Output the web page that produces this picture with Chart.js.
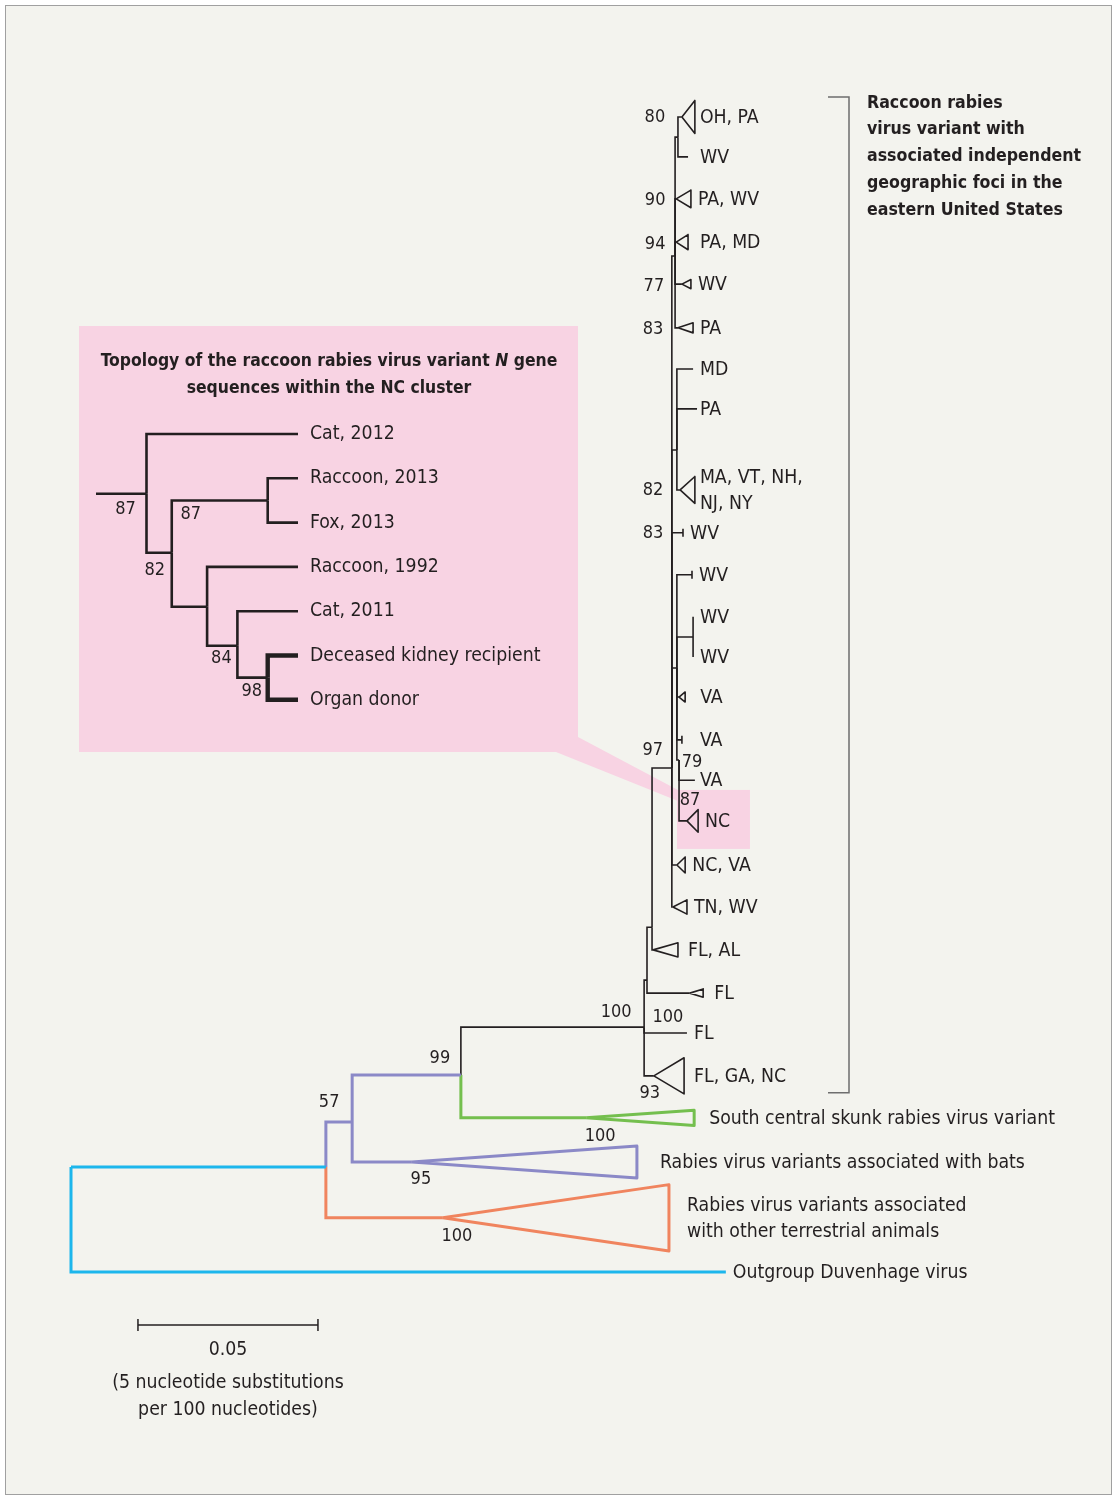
<!DOCTYPE html>
<html>
<head>
<meta charset="utf-8">
<script src="https://cdn.jsdelivr.net/npm/chart.js@4.4.1/dist/chart.umd.min.js"></script>
<style>
  html, body { margin: 0; padding: 0; background: #fff; }
  #wrap { position: relative; width: 1117px; height: 1500px; }
  #frame { position: absolute; left: 5px; top: 5px; width: 1105px; height: 1488px;
           border: 1px solid #a0a0a0; background: #f3f3ee; }
  #chart { position: absolute; left: 0; top: 0; width: 1117px; height: 1500px; }
</style>
</head>
<body>
<div id="wrap">
  <div id="frame"></div>
  <div id="chart"><canvas id="tree"></canvas></div>
</div>
<script>
// ---- data -------------------------------------------------------------
// nodes: [id, parent, distance from root (nt substitutions per 100 nt), tip row]
const backboneNodes = [
  ['root',        null,      0.00, 25.00],
  ['ingroup',     'root',    7.08, 25.00],
  ['duvenhage',   'root',   18.19, 27.50],
  ['pNode',       'ingroup', 7.81, 23.93],
  ['terrestrial', 'ingroup',10.33, 26.21],
  ['n99',         'pNode',  10.83, 22.81],
  ['bats',        'pNode',   9.47, 24.88],
  ['skunk',       'n99',    14.31, 23.83],
  ['raccoon',     'n99',    15.92, 21.67],
];

const raccoonNodes = [
  ['flgancT', 'raccoon', 16.19, 22.83],
  ['fl1031',  'raccoon', 17.11, 21.81],
  ['r2',      'raccoon', 16.00, 20.55],
  ['flT',     'r2',      17.19, 20.86],
  ['r3',      'r2',      16.14, 19.29],
  ['flalT',   'r3',      16.17, 19.83],
  ['r4',      'r3',      16.69, 15.50],
  ['tnwvT',   'r4',      16.72, 18.81],
  ['ncvaT',   'r4',      16.83, 17.81],
  ['wr',      'r4',      16.83, 13.12],
  ['wv534',   'r4',      17.00,  9.90],
  ['nMid',    'r4',      16.83,  7.93],
  ['nTop',    'r4',      16.78,  3.31],
  ['wv575',   'wr',      17.25, 10.90],
  ['cherry',  'wr',      17.28, 12.38],
  ['wv617',   'cherry',  17.28, 11.90],
  ['wv657',   'cherry',  17.28, 12.86],
  ['va697T',  'wr',      16.89, 13.81],
  ['va740',   'wr',      16.97, 14.83],
  ['r6',      'wr',      16.89, 15.31],
  ['va780',   'r6',      17.33, 15.79],
  ['ncT',     'r6',      17.11, 16.76],
  ['md369',   'nMid',    17.28,  6.00],
  ['pa409',   'nMid',    17.39,  6.95],
  ['maT',     'nMid',    16.92,  8.88],
  ['na',      'nTop',    16.86,  0.48],
  ['pawvT',   'nTop',    16.81,  1.95],
  ['pamdT',   'nTop',    16.81,  2.98],
  ['wv284T',  'nTop',    16.97,  3.98],
  ['pa328T',  'nTop',    16.86,  5.02],
  ['ohpaT',   'na',      16.97,  0.00],
  ['wv157',   'na',      17.14,  0.95],
];

// collapsed clades: [id, distance of farthest tip, half height in rows]
const collapsed = [
  ['terrestrial', 16.61, 0.79], ['bats', 15.72, 0.38], ['skunk', 17.31, 0.18],
  ['flgancT', 17.03, 0.43], ['flT', 17.56, 0.10], ['flalT', 16.86, 0.17],
  ['tnwvT', 17.11, 0.17], ['ncvaT', 17.06, 0.19], ['va697T', 17.06, 0.12],
  ['ncT', 17.42, 0.27], ['maT', 17.33, 0.32], ['pawvT', 17.22, 0.21],
  ['pamdT', 17.14, 0.18], ['wv284T', 17.22, 0.11], ['pa328T', 17.28, 0.12],
  ['ohpaT', 17.33, 0.39],
];

const tickLeaves = ['wv534', 'wv575', 'va740'];

const leafLabels = [
  ['ohpaT', 'OH, PA'], ['wv157', 'WV'], ['pawvT', 'PA, WV'], ['pamdT', 'PA, MD'],
  ['wv284T', 'WV'], ['pa328T', 'PA'], ['md369', 'MD'], ['pa409', 'PA'],
  ['maT', 'MA, VT, NH,\nNJ, NY'], ['wv534', 'WV'], ['wv575', 'WV'], ['wv617', 'WV'],
  ['wv657', 'WV'], ['va697T', 'VA'], ['va740', 'VA'], ['va780', 'VA'], ['ncT', 'NC'],
  ['ncvaT', 'NC, VA'], ['tnwvT', 'TN, WV'], ['flalT', 'FL, AL'], ['flT', 'FL'],
  ['fl1031', 'FL'], ['flgancT', 'FL, GA, NC'],
  ['skunk', 'South central skunk rabies virus variant'],
  ['bats', 'Rabies virus variants associated with bats'],
  ['terrestrial', 'Rabies virus variants associated\nwith other terrestrial animals'],
  ['duvenhage', 'Outgroup Duvenhage virus'],
];

const bootstrap = [
  ['ohpaT', 80], ['pawvT', 90], ['pamdT', 94], ['wv284T', 77], ['pa328T', 83],
  ['maT', 82], ['wv534', 83], ['r4', 97], ['r6', 79], ['ncT', 87],
  ['raccoon', 100], ['fl1031', 100], ['flgancT', 93], ['n99', 99], ['pNode', 57],
  ['skunk', 100], ['bats', 95], ['terrestrial', 100],
];

// inset topology (NC cluster): [id, parent, depth, tip row]
const insetNodes = [
  ['iroot', null, 0, 1.35],
  ['iA', 'iroot', 5, 1.35],
  ['cat2012', 'iA', 20, 0],
  ['iB', 'iA', 7.5, 2.68],
  ['iC', 'iB', 17, 1.5],
  ['raccoon2013', 'iC', 20, 1],
  ['fox2013', 'iC', 20, 2],
  ['iD', 'iB', 11, 3.9],
  ['raccoon1992', 'iD', 20, 3],
  ['iE', 'iD', 14, 4.78],
  ['cat2011', 'iE', 20, 4],
  ['iF', 'iE', 17, 5.5],
  ['kidney', 'iF', 20, 5],
  ['donor', 'iF', 20, 6],
];
const insetLabels = [
  ['cat2012', 'Cat, 2012'], ['raccoon2013', 'Raccoon, 2013'], ['fox2013', 'Fox, 2013'],
  ['raccoon1992', 'Raccoon, 1992'], ['cat2011', 'Cat, 2011'],
  ['kidney', 'Deceased kidney recipient'], ['donor', 'Organ donor'],
];
const insetBootstrap = [['iA', 87], ['iC', 87], ['iB', 82], ['iE', 84], ['iF', 98]];
const insetThick = ['kidney', 'donor'];

const scaleBarLength = 5;   // 0.05 = 5 substitutions per 100 nucleotides

// ---- layout & style ---------------------------------------------------
const W = 1117, H = 1500;
const PX = { root: 71, unit: 36, row0: 117, row: 42 };
const IPX = { root: 96, unit: 10.1, row0: 434, row: 44.3 };
const SCALE_BAR = { start: 1.86, row: 28.76 };
const INK = '#231f20';
const FONT = '"DejaVu Sans Condensed", "Liberation Sans Narrow", sans-serif';
const CLADE_COLOR = {
  ingroup: '#1cb6ec', duvenhage: '#1cb6ec',
  pNode: '#8b89c7', n99: '#8b89c7', bats: '#8b89c7',
  terrestrial: '#f0845e', skunk: '#74bf4e',
};
const LABEL_GAP = { wv157: 12, pamdT: 12, va697T: 15, va740: 18, pa409: 3, ohpaT: 5,
  maT: 5, va780: 5, skunk: 15, bats: 23, terrestrial: 18, flT: 11, flalT: 10, flgancT: 10 };
const BOOT_OFFSET = {
  ohpaT: [-27, 0], pawvT: [-21, 1], pamdT: [-21, 2], wv284T: [-28, 2], pa328T: [-25, 1],
  maT: [-27, 0], wv534: [-30, 1], r4: [-19, -18], r6: [13, 2], ncT: [3, -21],
  raccoon: [-28, -15], fl1031: [-19, -16], flgancT: [-4, 17], n99: [-21, -17],
  pNode: [-23, -20], skunk: [14, 18], bats: [9, 17], terrestrial: [14, 19],
  iA: [-21, 16], iC: [-77, 14], iB: [-17, 18], iE: [-16, 13], iF: [-16, 14],
};

const mainIndex = new Map([...backboneNodes, ...raccoonNodes].map(n => [n[0], n]));
const insetIndex = new Map(insetNodes.map(n => [n[0], n]));
const collapsedMap = new Map(collapsed.map(c => [c[0], c]));

function seg(points, color, width, extra) {
  return Object.assign({
    data: points, showLine: true, borderColor: color, borderWidth: width,
    pointRadius: 0, fill: false, tension: 0, borderJoinStyle: 'miter', borderCapStyle: 'butt',
  }, extra || {});
}

const datasets = [];
for (const [id, parent, d, r] of [...backboneNodes, ...raccoonNodes]) {
  if (!parent) continue;
  const p = mainIndex.get(parent);
  const color = CLADE_COLOR[id] || INK;
  const width = CLADE_COLOR[id] ? 3 : 1.6;
  const tick = tickLeaves.includes(id);
  datasets.push(seg([{ x: p[2], y: p[3] }, { x: p[2], y: r }, { x: d, y: r }], color, width, tick ? {
    pointStyle: 'line', rotation: 90, pointBorderColor: color, pointBorderWidth: 1.6,
    pointRadius: c => (c.dataIndex === 2 ? 4 : 0),
  } : null));
  const c = collapsedMap.get(id);
  if (c) {
    datasets.push(seg([{ x: d, y: r }, { x: c[1], y: r - c[2] }, { x: c[1], y: r + c[2] }, { x: d, y: r }],
      color, width, { borderJoinStyle: 'round' }));
  }
}
for (const [id, parent, d, r] of insetNodes) {
  if (!parent) continue;
  const p = insetIndex.get(parent);
  datasets.push(seg([{ x: p[2], y: p[3] }, { x: p[2], y: r }, { x: d, y: r }], INK,
    insetThick.includes(id) ? 4.4 : 2.6, { xAxisID: 'xi', yAxisID: 'yi' }));
}
// scale bar
datasets.push(seg([{ x: SCALE_BAR.start, y: SCALE_BAR.row }, { x: SCALE_BAR.start + scaleBarLength, y: SCALE_BAR.row }],
  INK, 1.5, { pointStyle: 'line', rotation: 90, pointRadius: 6, pointBorderColor: INK, pointBorderWidth: 1.5 }));

function nodeEnd(id) {
  const n = mainIndex.get(id);
  const c = collapsedMap.get(id);
  return { d: c ? c[1] : n[2], r: n[3] };
}

function txt(ctx, s, x, y, font, align) {
  ctx.font = font;
  ctx.textAlign = align || 'left';
  ctx.textBaseline = 'middle';
  ctx.fillStyle = INK;
  const lines = s.split('\n');
  lines.forEach((line, i) => ctx.fillText(line, x, y + (i - (lines.length - 1) / 2) * 26.5));
}

const decor = {
  id: 'decor',
  beforeDatasetsDraw(chart) {
    const { ctx, scales: { x, y } } = chart;
    const nc = mainIndex.get('ncT');
    const nx = x.getPixelForValue(nc[2]), ny = y.getPixelForValue(nc[3]);
    ctx.save();
    ctx.fillStyle = '#f8d3e3';
    ctx.fillRect(79, 326, 499, 426);
    ctx.fillRect(nx - 10, ny - 31, 73, 59);
    ctx.beginPath();
    ctx.moveTo(578, 737);
    ctx.lineTo(nx - 9, ny - 31);
    ctx.lineTo(nx - 9, ny - 20);
    ctx.lineTo(556, 752);
    ctx.closePath();
    ctx.fill();
    // bracket around the raccoon rabies clade
    const top = y.getPixelForValue(mainIndex.get('ohpaT')[3]) - 20;
    const bot = y.getPixelForValue(mainIndex.get('flgancT')[3]) + 17;
    ctx.strokeStyle = '#6e6e6e';
    ctx.lineWidth = 1.5;
    ctx.beginPath();
    ctx.moveTo(828, top); ctx.lineTo(849, top); ctx.lineTo(849, bot); ctx.lineTo(828, bot);
    ctx.stroke();
    ctx.restore();
  },
  afterDatasetsDraw(chart) {
    const { ctx, scales: { x, y, xi, yi } } = chart;
    ctx.save();
    const lab = '19.3px ' + FONT;
    const num = '18px ' + FONT;
    for (const [id, text] of leafLabels) {
      const e = nodeEnd(id);
      const gap = LABEL_GAP[id] !== undefined ? LABEL_GAP[id] : 7;
      txt(ctx, text, x.getPixelForValue(e.d) + gap, y.getPixelForValue(e.r) + 1, lab);
    }
    for (const [id, v] of bootstrap) {
      const n = mainIndex.get(id);
      const [dx, dy] = BOOT_OFFSET[id];
      txt(ctx, String(v), x.getPixelForValue(n[2]) + dx, y.getPixelForValue(n[3]) + dy, num, 'center');
    }
    for (const [id, text] of insetLabels) {
      const n = insetIndex.get(id);
      txt(ctx, text, xi.getPixelForValue(n[2]) + 12, yi.getPixelForValue(n[3]), lab);
    }
    for (const [id, v] of insetBootstrap) {
      const n = insetIndex.get(id);
      const [dx, dy] = BOOT_OFFSET[id];
      txt(ctx, String(v), xi.getPixelForValue(n[2]) + dx, yi.getPixelForValue(n[3]) + dy, num, 'center');
    }
    // inset title with italic N
    const bold = 'bold 17.4px ' + FONT, ital = 'italic bold 17.4px ' + FONT;
    const parts = [['Topology of the raccoon rabies virus variant ', bold], ['N', ital], [' gene', bold]];
    let total = 0;
    for (const [s, f] of parts) { ctx.font = f; total += ctx.measureText(s).width; }
    let cx = 329 - total / 2;
    for (const [s, f] of parts) {
      txt(ctx, s, cx, 361, f, 'left');
      ctx.font = f; cx += ctx.measureText(s).width;
    }
    txt(ctx, 'sequences within the NC cluster', 329, 388, bold, 'center');
    // clade annotation
    ['Raccoon rabies', 'virus variant with', 'associated independent', 'geographic foci in the',
     'eastern United States'].forEach((s, i) => txt(ctx, s, 867, 103 + i * 26.8, 'bold 17.6px ' + FONT));
    // scale bar caption
    const sx = x.getPixelForValue(SCALE_BAR.start + scaleBarLength / 2);
    const sy = y.getPixelForValue(SCALE_BAR.row);
    txt(ctx, '0.05', sx, sy + 25, lab, 'center');
    txt(ctx, '(5 nucleotide substitutions', sx, sy + 58, lab, 'center');
    txt(ctx, 'per 100 nucleotides)', sx, sy + 85, lab, 'center');
    ctx.restore();
  },
};

new Chart(document.getElementById('tree'), {
  type: 'scatter',
  data: { datasets },
  options: {
    responsive: true, maintainAspectRatio: false, animation: false,
    layout: { padding: 0, autoPadding: false },
    plugins: { legend: { display: false }, tooltip: { enabled: false } },
    scales: {
      x: { type: 'linear', display: false, min: -PX.root / PX.unit, max: (W - PX.root) / PX.unit },
      y: { type: 'linear', display: false, reverse: true, min: -PX.row0 / PX.row, max: (H - PX.row0) / PX.row },
      xi: { type: 'linear', position: 'bottom', display: false, min: -IPX.root / IPX.unit, max: (W - IPX.root) / IPX.unit },
      yi: { type: 'linear', position: 'left', display: false, reverse: true, min: -IPX.row0 / IPX.row, max: (H - IPX.row0) / IPX.row },
    },
  },
  plugins: [decor],
});
</script>
</body>
</html>
